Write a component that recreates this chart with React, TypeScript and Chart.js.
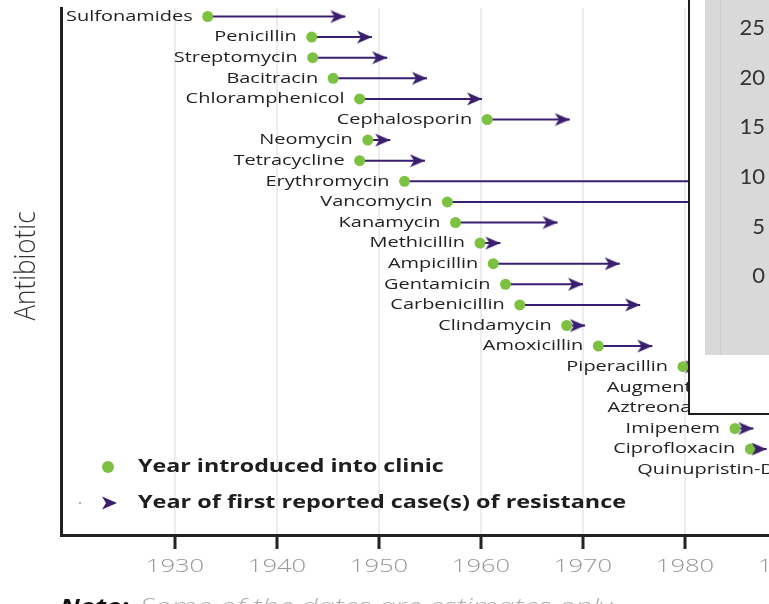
import React, { useEffect, useRef } from "react";
import { Chart, registerables } from "chart.js";

Chart.register(...registerables);

// ---- data ----
const antibiotics = [
  "Sulfonamides", "Penicillin", "Streptomycin", "Bacitracin", "Chloramphenicol",
  "Cephalosporin", "Neomycin", "Tetracycline", "Erythromycin", "Vancomycin",
  "Kanamycin", "Methicillin", "Ampicillin", "Gentamicin", "Carbenicillin",
  "Clindamycin", "Amoxicillin", "Piperacillin", "Augmentin", "Aztreonam",
  "Imipenem", "Ciprofloxacin", "Quinupristin-Dalfopristin",
];
const yearIntroduced = [
  1933.2, 1943.4, 1943.5, 1945.5, 1948.1,
  1960.6, 1948.9, 1948.1, 1952.5, 1956.7,
  1957.5, 1959.9, 1961.2, 1962.4, 1963.8,
  1968.4, 1971.5, 1979.8, 1983.8, 1983.9,
  1984.9, 1986.4, 1999.5,
];
const yearResistance = [
  1946.7, 1949.3, 1950.8, 1954.7, 1960.1,
  1968.7, 1951.1, 1954.5, 1988.0, 1988.0,
  1967.5, 1961.9, 1973.6, 1970.0, 1975.6,
  1970.2, 1976.8, 1981.5, 1988.0, 1988.0,
  1986.7, 1988.0, 2001.0,
];
const xTickYears = [1930, 1940, 1950, 1960, 1970, 1980, 1990, 2000];
const insetTicks = [0, 5, 10, 15, 20, 25];
const legendLabels = ["Year introduced into clinic", "Year of first reported case(s) of resistance"];
const yAxisTitle = "Antibiotic";
const noteBold = "Note:";
const noteText = "Some of the dates are estimates only.";

const GREEN = "#7dc142";
const PURPLE = "#3a1f70";

function makeArrow(color: string) {
  const c = document.createElement("canvas");
  c.width = 34;
  c.height = 16;
  const g = c.getContext("2d")!;
  g.fillStyle = color;
  g.beginPath();
  g.moveTo(17, 8);
  g.lineTo(2, 1.5);
  g.lineTo(6, 8);
  g.lineTo(2, 14.5);
  g.closePath();
  g.fill();
  return c;
}

function stretchText(ctx: CanvasRenderingContext2D, text: string, x: number, y: number, sx: number, align: CanvasTextAlign) {
  ctx.save();
  ctx.translate(x, y);
  ctx.scale(sx, 1);
  ctx.textAlign = align;
  ctx.fillText(text, 0, 0);
  ctx.restore();
}

export default function App() {
  const mainRef = useRef<HTMLCanvasElement>(null);
  const insetRef = useRef<HTMLCanvasElement>(null);

  useEffect(() => {
    const arrow = makeArrow(PURPLE);

    const segData: { x: number; y: number | null }[] = [];
    antibiotics.forEach((_, i) => {
      segData.push({ x: yearIntroduced[i], y: i });
      segData.push({ x: yearResistance[i], y: i });
      segData.push({ x: yearResistance[i], y: null });
    });

    const textPlugin = {
      id: "textPlugin",
      afterDraw(chart: any) {
        const { ctx, scales } = chart;
        const xs = scales.x;
        const ys = scales.y;
        ctx.save();
        ctx.textBaseline = "middle";

        // category labels next to the dots
        ctx.fillStyle = "#222";
        ctx.font = '15px "Open Sans"';
        antibiotics.forEach((name, i) => {
          const px = xs.getPixelForValue(yearIntroduced[i]) - 15;
          const py = ys.getPixelForValue(i);
          stretchText(ctx, name, px, py, 1.33, "right");
        });

        // x tick labels
        ctx.fillStyle = "#979797";
        ctx.font = '300 18px "Open Sans"';
        xTickYears.forEach((yr) => {
          stretchText(ctx, String(yr), xs.getPixelForValue(yr), 567, 1.42, "center");
        });

        // y axis title
        ctx.save();
        ctx.fillStyle = "#333";
        ctx.font = '300 26px "Open Sans"';
        ctx.translate(27, 266);
        ctx.scale(1.1, 1);
        ctx.rotate(-Math.PI / 2);
        ctx.textAlign = "center";
        ctx.fillText(yAxisTitle, 0, 0);
        ctx.restore();

        // legend
        ctx.fillStyle = GREEN;
        ctx.beginPath();
        ctx.arc(108, 467, 6, 0, Math.PI * 2);
        ctx.fill();
        ctx.fillStyle = "#9a9a9a";
        ctx.beginPath();
        ctx.arc(80, 503, 1, 0, Math.PI * 2);
        ctx.fill();
        ctx.drawImage(arrow, 117 - 17, 503 - 8);
        ctx.fillStyle = "#1e1e1e";
        ctx.font = 'bold 18px "Open Sans"';
        stretchText(ctx, legendLabels[0], 138, 467, 1.29, "left");
        stretchText(ctx, legendLabels[1], 138, 503, 1.3, "left");

        // note at the bottom (cut by the frame)
        ctx.textBaseline = "alphabetic";
        ctx.fillStyle = "#111";
        ctx.font = 'italic bold 22px "Open Sans"';
        stretchText(ctx, noteBold, 60, 614, 1.2, "left");
        ctx.fillStyle = "#b0b0b0";
        ctx.font = 'italic 300 22px "Open Sans"';
        stretchText(ctx, noteText, 140, 614, 1.35, "left");
        ctx.restore();
      },
    };

    const chart = new Chart(mainRef.current!, {
      type: "scatter",
      data: {
        datasets: [
          {
            label: "resistance",
            data: antibiotics.map((_, i) => ({ x: yearResistance[i], y: i })),
            pointStyle: arrow as any,
            pointRadius: 8,
            showLine: false,
          },
          {
            label: "introduced",
            data: antibiotics.map((_, i) => ({ x: yearIntroduced[i], y: i })),
            pointRadius: 5.5,
            pointBackgroundColor: GREEN,
            pointBorderWidth: 0,
            showLine: false,
          },
          {
            label: "span",
            data: segData as any,
            showLine: true,
            spanGaps: false,
            borderColor: PURPLE,
            borderWidth: 2,
            pointRadius: 0,
            fill: false,
          },
        ],
      },
      options: {
        responsive: false,
        animation: false,
        devicePixelRatio: 1,
        layout: { autoPadding: false, padding: { left: 61, top: 8, right: 9, bottom: 69 } },
        plugins: { legend: { display: false }, tooltip: { enabled: false } },
        scales: {
          x: {
            type: "linear",
            min: 1918.82,
            max: 2010,
            afterBuildTicks: (s: any) => {
              s.ticks = xTickYears.map((v) => ({ value: v }));
            },
            afterFit: (s: any) => {
              s.height = 0;
            },
            ticks: { display: false },
            grid: {
              color: "#ececec",
              lineWidth: 2,
              drawTicks: true,
              tickLength: 14,
              tickColor: "#222",
              tickWidth: 3,
            },
            border: { display: true, color: "#222", width: 3 },
          },
          y: {
            type: "linear",
            reverse: true,
            min: -0.413,
            max: 25.17,
            afterFit: (s: any) => {
              s.width = 0;
            },
            ticks: { display: false },
            grid: { display: false, drawTicks: false },
            border: { display: true, color: "#222", width: 3 },
          },
        },
      },
      plugins: [textPlugin],
    });

    const inset = new Chart(insetRef.current!, {
      type: "bar",
      data: { labels: [], datasets: [] },
      options: {
        responsive: false,
        animation: false,
        devicePixelRatio: 1,
        layout: { autoPadding: false, padding: 0 },
        plugins: { legend: { display: false }, tooltip: { enabled: false } },
        scales: {
          x: { display: false },
          y: {
            type: "linear",
            min: -7.96,
            max: 27.82,
            afterBuildTicks: (s: any) => {
              s.ticks = insetTicks.map((v) => ({ value: v }));
            },
            afterFit: (s: any) => {
              s.width = 63;
              s.paddingTop = 0;
              s.paddingBottom = 0;
            },
            ticks: { color: "#333", font: { family: "Lato", size: 22 }, padding: 3 },
            grid: { display: false, drawTicks: false },
            border: { display: false },
          },
        },
      },
    });

    return () => {
      chart.destroy();
      inset.destroy();
    };
  }, []);

  return (
    <div
      style={{
        position: "fixed",
        left: 0,
        top: 0,
        width: 769,
        height: 604,
        overflow: "hidden",
        background: "#fff",
      }}
    >
      <canvas
        ref={mainRef}
        width={1000}
        height={604}
        style={{ position: "absolute", left: 0, top: 0, width: 1000, height: 604 }}
      />
      <div
        style={{
          position: "absolute",
          left: 688,
          top: -4,
          width: 200,
          height: 419,
          boxSizing: "border-box",
          border: "2px solid #1c1c1c",
          background: "#fff",
        }}
      />
      <canvas
        ref={insetRef}
        width={200}
        height={355}
        style={{ position: "absolute", left: 705, top: 0, width: 200, height: 355, background: "#d9d9d9" }}
      />
      <div
        style={{
          position: "absolute",
          left: 720,
          top: 0,
          width: 1,
          height: 355,
          background: "#cdcdcd",
        }}
      />
    </div>
  );
}
